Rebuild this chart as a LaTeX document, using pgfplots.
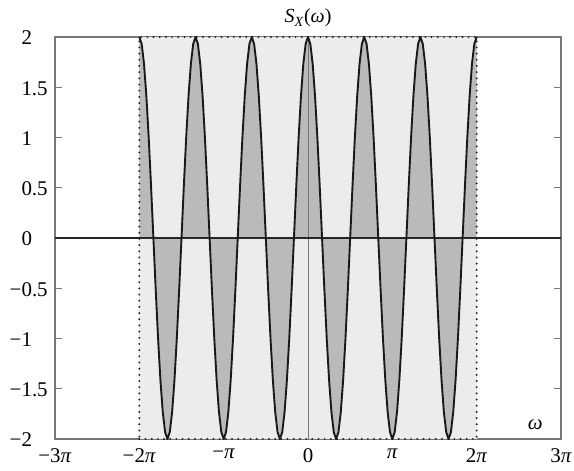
\documentclass[border=0pt]{standalone}
\usepackage{fontspec}
\setmainfont{Liberation Serif}
\usepackage{pgfplots}
\usepackage{pgfplotstable}
\pgfplotsset{compat=1.18}

\definecolor{bgfill}{RGB}{236,236,236}
\definecolor{lobe}{RGB}{186,186,186}
\definecolor{frame}{RGB}{120,120,120}

% decimal-aligned tick labels: integer part to the left, fraction to the right
\newcommand{\dl}[2]{\llap{#1}\rlap{#2}}

% S_X(omega) = 2 cos(3 omega) sampled every pi/36 (x in units of pi/36)
\pgfplotstableread[row sep=\\]{
x y\\
-72 2\\ -71 1.9319\\ -70 1.7321\\ -69 1.4142\\ -68 1\\ -67 0.5176\\ -66 0\\ -65 -0.5176\\ -64 -1\\ -63 -1.4142\\ -62 -1.7321\\ -61 -1.9319\\
-60 -2\\ -59 -1.9319\\ -58 -1.7321\\ -57 -1.4142\\ -56 -1\\ -55 -0.5176\\ -54 0\\ -53 0.5176\\ -52 1\\ -51 1.4142\\ -50 1.7321\\ -49 1.9319\\
-48 2\\ -47 1.9319\\ -46 1.7321\\ -45 1.4142\\ -44 1\\ -43 0.5176\\ -42 0\\ -41 -0.5176\\ -40 -1\\ -39 -1.4142\\ -38 -1.7321\\ -37 -1.9319\\
-36 -2\\ -35 -1.9319\\ -34 -1.7321\\ -33 -1.4142\\ -32 -1\\ -31 -0.5176\\ -30 0\\ -29 0.5176\\ -28 1\\ -27 1.4142\\ -26 1.7321\\ -25 1.9319\\
-24 2\\ -23 1.9319\\ -22 1.7321\\ -21 1.4142\\ -20 1\\ -19 0.5176\\ -18 0\\ -17 -0.5176\\ -16 -1\\ -15 -1.4142\\ -14 -1.7321\\ -13 -1.9319\\
-12 -2\\ -11 -1.9319\\ -10 -1.7321\\ -9 -1.4142\\ -8 -1\\ -7 -0.5176\\ -6 0\\ -5 0.5176\\ -4 1\\ -3 1.4142\\ -2 1.7321\\ -1 1.9319\\
0 2\\ 1 1.9319\\ 2 1.7321\\ 3 1.4142\\ 4 1\\ 5 0.5176\\ 6 0\\ 7 -0.5176\\ 8 -1\\ 9 -1.4142\\ 10 -1.7321\\ 11 -1.9319\\
12 -2\\ 13 -1.9319\\ 14 -1.7321\\ 15 -1.4142\\ 16 -1\\ 17 -0.5176\\ 18 0\\ 19 0.5176\\ 20 1\\ 21 1.4142\\ 22 1.7321\\ 23 1.9319\\
24 2\\ 25 1.9319\\ 26 1.7321\\ 27 1.4142\\ 28 1\\ 29 0.5176\\ 30 0\\ 31 -0.5176\\ 32 -1\\ 33 -1.4142\\ 34 -1.7321\\ 35 -1.9319\\
36 -2\\ 37 -1.9319\\ 38 -1.7321\\ 39 -1.4142\\ 40 -1\\ 41 -0.5176\\ 42 0\\ 43 0.5176\\ 44 1\\ 45 1.4142\\ 46 1.7321\\ 47 1.9319\\
48 2\\ 49 1.9319\\ 50 1.7321\\ 51 1.4142\\ 52 1\\ 53 0.5176\\ 54 0\\ 55 -0.5176\\ 56 -1\\ 57 -1.4142\\ 58 -1.7321\\ 59 -1.9319\\
60 -2\\ 61 -1.9319\\ 62 -1.7321\\ 63 -1.4142\\ 64 -1\\ 65 -0.5176\\ 66 0\\ 67 0.5176\\ 68 1\\ 69 1.4142\\ 70 1.7321\\ 71 1.9319\\
72 2\\
}\spectrum

\begin{document}
\begin{tikzpicture}
\begin{axis}[
  at={(0,0)}, anchor=south west,
  scale only axis,
  width=506bp, height=402bp,
  xmin=-108, xmax=108, ymin=-2, ymax=2,
  xtick={-108,-72,-36,0,36,72,108},
  xticklabels={−3\textit{π},−2\textit{π},−\textit{π},0,\textit{π},2\textit{π},3\textit{π}},
  ytick={-2,-1.5,-1,-0.5,0,0.5,1,1.5,2},
  yticklabels={\dl{−2}{},\dl{−1}{.5},\dl{−1}{},\dl{−0}{.5},\dl{0}{},\dl{0}{.5},\dl{1}{},\dl{1}{.5},\dl{2}{}},
  tick label style={font=\fontsize{21}{24}\selectfont},
  tick align=inside,
  major tick length=7bp,
  tick style={frame, line width=1pt},
  axis line style={frame, line width=1.3pt},
  xticklabel style={anchor=north, yshift=-6bp},
  yticklabel style={anchor=center, xshift=-23bp, yshift=-1bp},
  clip=true,
]
  % light band over the support of the spectrum
  \addplot[fill=bgfill, draw=none] coordinates {(-72,-2) (72,-2) (72,2) (-72,2)} -- cycle;
  % shaded lobes between the curve and zero
  \addplot[fill=lobe, draw=none] table[x=x,y=y] {\spectrum} \closedcycle;
  % reference lines
  \addplot[frame, line width=0.8pt] coordinates {(0,-2) (0,2)};
  \addplot[black!85, line width=1.1pt] coordinates {(-108,0) (108,0)};
  % dotted border of the band
  \addplot[black!85, line width=2.2pt, line cap=round, dash pattern=on 0pt off 6.2pt]
    coordinates {(-72,-2) (72,-2) (72,2) (-72,2) (-72,-2)};
  % the spectrum itself
  \addplot[black!90, line width=1.9pt] table[x=x,y=y] {\spectrum};
  \node[font=\fontsize{21}{24}\selectfont] at (axis cs:97,-1.86) {\textit{ω}};
\end{axis}
\node[font=\fontsize{20}{24}\selectfont, anchor=base] at (253bp,416bp) {\textit{S}\textsubscript{\textit{X}}(\textit{ω})};
\pgfresetboundingbox
\useasboundingbox (-55bp,-32bp) rectangle (519bp,439bp);
\end{tikzpicture}
\end{document}
